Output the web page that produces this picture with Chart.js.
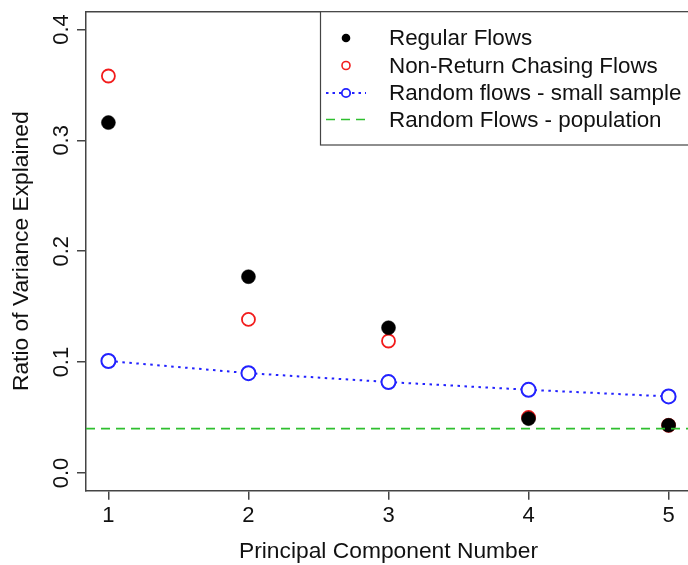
<!DOCTYPE html>
<html>
<head>
<meta charset="utf-8">
<script src="https://cdn.jsdelivr.net/npm/chart.js@4/dist/chart.umd.min.js"></script>
<style>
  html, body { margin: 0; padding: 0; overflow: hidden; background: #fff; }
  #wrap { width: 700px; height: 565px; }
</style>
</head>
<body>
<div id="wrap"><canvas id="pca" width="700" height="565"></canvas></div>
<script>
// values
const components = [1, 2, 3, 4, 5];
const regularFlows = [0.316, 0.177, 0.131, 0.049, 0.043];
const nonReturnFlows = [0.358, 0.1385, 0.119, 0.050, 0.043];
const randomSample = [0.101, 0.090, 0.082, 0.075, 0.069];
const populationLevel = 0.04;

const xTicks = [1, 2, 3, 4, 5];
const yTicks = [0.0, 0.1, 0.2, 0.3, 0.4];
const xMin = 0.84, xMax = 5.16;
const yMin = -0.016, yMax = 0.416;

const legendLabels = [
  'Regular Flows',
  'Non-Return Chasing Flows',
  'Random flows - small sample',
  'Random Flows - population'
];

const FONT = '"Liberation Sans", Arial, Helvetica, sans-serif';
const AXIS = '#444';

function pairs(values) {
  return components.map((c, i) => ({ x: c, y: values[i] }));
}

// box top/right edges of the plot region
const boxPlugin = {
  id: 'box',
  beforeDatasetsDraw(chart) {
    const { ctx, chartArea: a } = chart;
    ctx.save();
    ctx.strokeStyle = AXIS;
    ctx.lineWidth = 1.5;
    ctx.beginPath();
    ctx.moveTo(a.left, a.top);
    ctx.lineTo(a.right, a.top);
    ctx.lineTo(a.right, a.bottom);
    ctx.stroke();
    ctx.restore();
  }
};

// R style rotated y tick labels
const yLabelPlugin = {
  id: 'yLabels',
  afterDraw(chart) {
    const { ctx } = chart;
    const ys = chart.scales.y;
    ctx.save();
    ctx.fillStyle = '#111';
    ctx.font = '22px ' + FONT;
    ctx.textAlign = 'center';
    ctx.textBaseline = 'alphabetic';
    ys.ticks.forEach(t => {
      const py = ys.getPixelForValue(t.value);
      ctx.save();
      ctx.translate(68, py);
      ctx.rotate(-Math.PI / 2);
      ctx.fillText(t.value.toFixed(1), 0, 0);
      ctx.restore();
    });
    ctx.restore();
  }
};

// legend box in the top right corner
const legendPlugin = {
  id: 'rLegend',
  afterDraw(chart) {
    const { ctx, chartArea: a } = chart;
    const left = 320.5, bottom = 145;
    const symX = 346, textX = 389;
    const rows = [38, 65.5, 93, 119.5];
    ctx.save();
    ctx.fillStyle = '#fff';
    ctx.fillRect(left, a.top, a.right - left, bottom - a.top);
    ctx.strokeStyle = AXIS;
    ctx.lineWidth = 1.2;
    ctx.strokeRect(left, a.top, a.right - left, bottom - a.top);

    // regular
    ctx.fillStyle = '#000';
    ctx.beginPath();
    ctx.arc(symX, rows[0], 4.3, 0, Math.PI * 2);
    ctx.fill();
    // non-return
    ctx.strokeStyle = '#f21c1c';
    ctx.lineWidth = 1.6;
    ctx.beginPath();
    ctx.arc(symX, rows[1], 4, 0, Math.PI * 2);
    ctx.stroke();
    // random sample
    ctx.strokeStyle = '#2222ff';
    ctx.lineWidth = 1.8;
    ctx.setLineDash([2.5, 4]);
    ctx.beginPath();
    ctx.moveTo(326, rows[2]);
    ctx.lineTo(366, rows[2]);
    ctx.stroke();
    ctx.setLineDash([]);
    ctx.fillStyle = '#fff';
    ctx.lineWidth = 1.8;
    ctx.beginPath();
    ctx.arc(symX, rows[2], 4.2, 0, Math.PI * 2);
    ctx.fill();
    ctx.stroke();
    // population
    ctx.strokeStyle = '#2fbf2f';
    ctx.lineWidth = 1.6;
    ctx.setLineDash([9, 6]);
    ctx.beginPath();
    ctx.moveTo(326, rows[3]);
    ctx.lineTo(368, rows[3]);
    ctx.stroke();
    ctx.setLineDash([]);

    ctx.fillStyle = '#111';
    ctx.font = '22.4px ' + FONT;
    ctx.textAlign = 'left';
    ctx.textBaseline = 'middle';
    legendLabels.forEach((txt, i) => ctx.fillText(txt, textX, rows[i] + 1));
    ctx.restore();
  }
};

new Chart(document.getElementById('pca'), {
  type: 'scatter',
  data: {
    datasets: [
      {
        label: legendLabels[3],
        data: [{ x: xMin, y: populationLevel }, { x: xMax, y: populationLevel }],
        showLine: true,
        borderColor: '#2fbf2f',
        borderWidth: 1.6,
        borderDash: [9, 6],
        pointRadius: 0
      },
      {
        label: legendLabels[0],
        data: pairs(regularFlows),
        pointRadius: 7,
        pointBackgroundColor: '#000',
        pointBorderColor: '#000',
        pointBorderWidth: 0.5
      },
      {
        label: legendLabels[1],
        data: pairs(nonReturnFlows),
        pointRadius: 6.5,
        pointBackgroundColor: 'rgba(0,0,0,0)',
        pointBorderColor: '#f21c1c',
        pointBorderWidth: 1.8
      },
      {
        label: legendLabels[2],
        data: pairs(randomSample),
        showLine: true,
        borderColor: '#2222ff',
        borderWidth: 2,
        borderDash: [2.5, 4.5],
        pointRadius: 7,
        pointBackgroundColor: '#fff',
        pointBorderColor: '#2222ff',
        pointBorderWidth: 2
      }
    ]
  },
  options: {
    responsive: false,
    animation: false,
    layout: { padding: { left: 0, right: 7.5, top: 11.7, bottom: 0 } },
    plugins: {
      legend: { display: false },
      tooltip: { enabled: false }
    },
    scales: {
      x: {
        type: 'linear',
        min: xMin,
        max: xMax,
        afterBuildTicks: s => { s.ticks = xTicks.map(v => ({ value: v })); },
        afterFit: s => { s.height = 565 - 490.7; },
        grid: { drawOnChartArea: false, drawTicks: true, tickLength: 9, color: AXIS, lineWidth: 1.5 },
        border: { display: true, color: AXIS, width: 1.5 },
        ticks: {
          padding: 3,
          color: '#111',
          font: { family: FONT, size: 22 },
          callback: v => String(v)
        },
        title: {
          display: true,
          text: 'Principal Component Number',
          color: '#111',
          font: { family: FONT, size: 22.8 },
          padding: { top: 0, bottom: 0 }
        }
      },
      y: {
        type: 'linear',
        min: yMin,
        max: yMax,
        afterBuildTicks: s => { s.ticks = yTicks.map(v => ({ value: v })); },
        afterFit: s => { s.width = 86; },
        grid: { drawOnChartArea: false, drawTicks: true, tickLength: 9, color: AXIS, lineWidth: 1.5 },
        border: { display: true, color: AXIS, width: 1.5 },
        ticks: { display: false },
        title: {
          display: true,
          text: 'Ratio of Variance Explained',
          color: '#111',
          font: { family: FONT, size: 22.8 },
          padding: { top: 8, bottom: 0 }
        }
      }
    }
  },
  plugins: [boxPlugin, yLabelPlugin, legendPlugin]
});
</script>
</body>
</html>
